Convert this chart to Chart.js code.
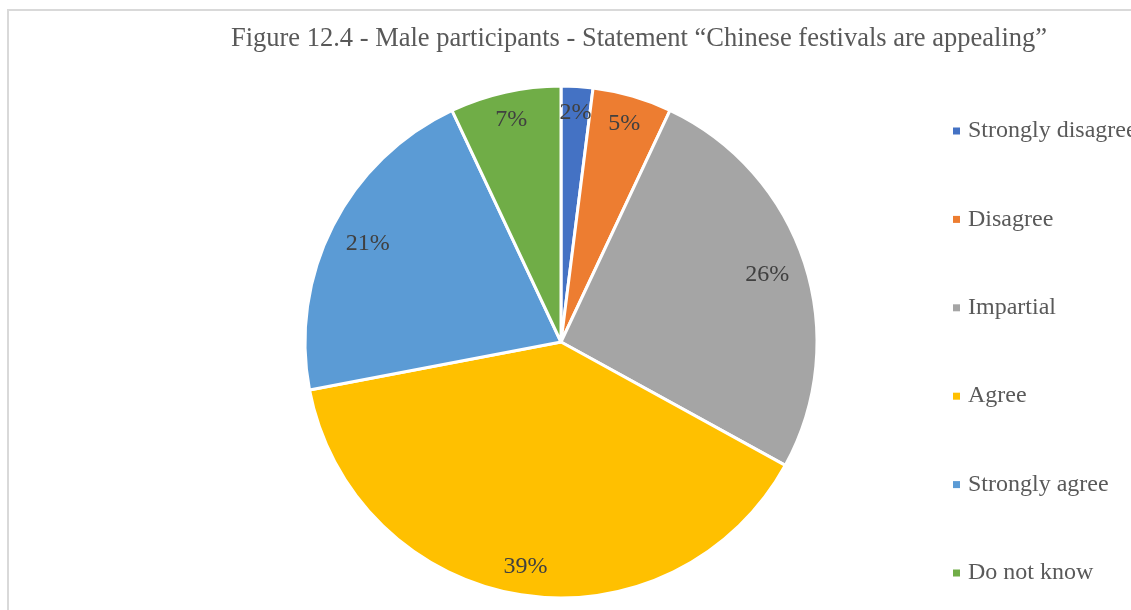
<!DOCTYPE html>
<html>
<head>
<meta charset="utf-8">
<title>Male participants - Chinese festivals</title>
<script src="https://cdn.jsdelivr.net/npm/chart.js@4.4.1/dist/chart.umd.min.js"></script>
<style>
  html, body { margin: 0; padding: 0; background: #fff; overflow: hidden; }
  #frame { position: absolute; left: 7px; top: 9px; width: 1300px; height: 700px; border: 2px solid #d9d9d9; }
  #frame canvas { position: absolute; left: 0; top: 0; }
</style>
</head>
<body>
<div id="frame"><canvas id="pieChart" width="1122" height="660"></canvas></div>
<script>
const categories = ['Strongly disagree', 'Disagree', 'Impartial', 'Agree', 'Strongly agree', 'Do not know'];
const percentages = [2, 5, 26, 39, 21, 7];
const sliceColors = ['#4472C4', '#ED7D31', '#A5A5A5', '#FFC000', '#5B9BD5', '#70AD47'];
const chartTitle = 'Figure 12.4 - Male participants - Statement \u201CChinese festivals are appealing\u201D';

const serif = '"Liberation Serif", "Times New Roman", serif';

// percentage text inside each slice, pushed in from the rim so the text box fits
const sliceLabels = {
    id: 'sliceLabels',
    afterDatasetsDraw(chart) {
        const ctx = chart.ctx;
        const meta = chart.getDatasetMeta(0);
        ctx.save();
        ctx.font = '24px ' + serif;
        ctx.fillStyle = '#404040';
        ctx.textAlign = 'center';
        ctx.textBaseline = 'middle';
        meta.data.forEach((arc, i) => {
            const p = arc.getProps(['x', 'y', 'startAngle', 'endAngle', 'outerRadius'], true);
            const text = chart.data.datasets[0].data[i] + '%';
            const mid = (p.startAngle + p.endAngle) / 2;
            const w = ctx.measureText(text).width;
            const r = p.outerRadius - (w / 2) * Math.abs(Math.cos(mid)) - 10 * Math.abs(Math.sin(mid)) - 15;
            ctx.fillText(text, p.x + Math.cos(mid) * r, p.y + Math.sin(mid) * r);
        });
        ctx.restore();
    }
};

// legend down the right side, one item per category with wide spacing
const sideLegend = {
    id: 'sideLegend',
    afterDraw(chart) {
        const ctx = chart.ctx;
        const colors = chart.data.datasets[0].backgroundColor;
        ctx.save();
        ctx.font = '24px ' + serif;
        ctx.textBaseline = 'middle';
        ctx.textAlign = 'left';
        chart.data.labels.forEach((name, i) => {
            const y = 120 + i * 88.4;
            ctx.fillStyle = colors[i];
            ctx.fillRect(944, y - 3.5, 7, 7);
            ctx.fillStyle = '#595959';
            ctx.fillText(name, 959, y);
        });
        ctx.restore();
    }
};

const ctx = document.getElementById('pieChart').getContext('2d');
new Chart(ctx, {
    type: 'pie',
    data: {
        labels: categories,
        datasets: [{
            data: percentages,
            backgroundColor: sliceColors,
            borderColor: '#ffffff',
            borderWidth: 3,
            hoverOffset: 0,
            radius: 256
        }]
    },
    options: {
        responsive: false,
        animation: false,
        events: [],
        layout: {
            padding: { left: 66, right: 84, top: 0, bottom: 51.5 }
        },
        plugins: {
            legend: { display: false },
            tooltip: { enabled: false },
            title: {
                display: true,
                text: chartTitle,
                align: 'end',
                color: '#595959',
                font: { family: serif, size: 26.5, weight: 'normal' },
                padding: { top: 11.7, bottom: 10 }
            }
        }
    },
    plugins: [sliceLabels, sideLegend]
});
</script>
</body>
</html>
